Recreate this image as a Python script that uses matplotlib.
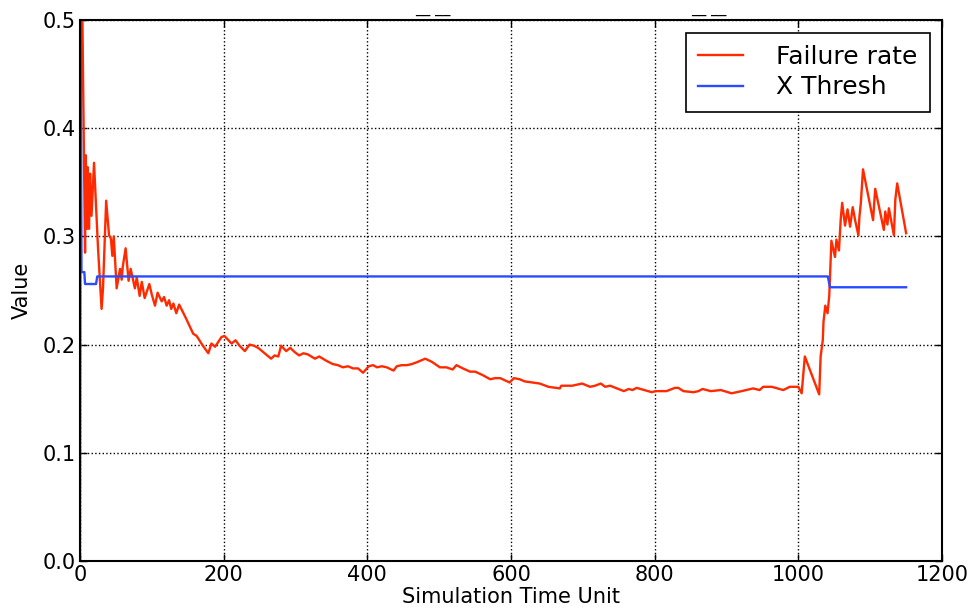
import matplotlib
matplotlib.use('Agg')
import matplotlib.pyplot as plt

# failure rate samples as (time, value)
fail_pts = [
    (0, 0.0), (1.2, 0.55), (2.5, 0.55), (5.5, 0.375), (7, 0.285), (8, 0.375),
    (9.7, 0.307), (10.7, 0.364), (12.5, 0.307), (14, 0.358), (16, 0.319),
    (19.5, 0.368), (25, 0.29), (30, 0.233), (32, 0.252), (36.4, 0.333),
    (40.4, 0.301), (43, 0.298), (45, 0.282), (47, 0.300), (51, 0.252),
    (55.7, 0.270), (58, 0.260), (59.5, 0.272), (63.5, 0.289), (67.6, 0.259),
    (70.5, 0.270), (76.4, 0.252), (79, 0.262), (83, 0.245), (86, 0.258),
    (90, 0.243), (96.5, 0.256), (100, 0.246), (104.4, 0.236), (108, 0.248),
    (113.7, 0.240), (117, 0.244), (120.6, 0.236), (124, 0.241), (127, 0.233),
    (130, 0.238), (134, 0.229), (138, 0.237), (147, 0.225), (157.6, 0.210),
    (162.4, 0.208), (170, 0.200), (178.6, 0.192), (183, 0.201), (188, 0.198),
    (197, 0.207), (201, 0.208), (211, 0.201), (216.5, 0.204), (222, 0.199),
    (229.5, 0.194), (236, 0.200), (242, 0.199), (248, 0.197), (257, 0.192),
    (266, 0.187), (271, 0.190), (276, 0.189), (280, 0.199), (287, 0.194),
    (292.6, 0.197), (299, 0.193), (305, 0.190), (311, 0.192), (317, 0.191),
    (327, 0.187), (333, 0.189), (343, 0.185), (352, 0.182), (359, 0.181),
    (366, 0.179), (373, 0.180), (380, 0.178), (387, 0.178), (394, 0.174),
    (402, 0.180), (408, 0.181), (413.6, 0.179), (420, 0.180), (427, 0.179),
    (436.5, 0.176), (441, 0.180), (448, 0.181), (455, 0.181), (462, 0.182),
    (470, 0.184), (480.6, 0.187), (490, 0.184), (501, 0.179), (510, 0.179),
    (518.7, 0.177), (524, 0.181), (533, 0.178), (543, 0.175), (550, 0.175),
    (560, 0.172), (571, 0.168), (578, 0.169), (585, 0.169), (598, 0.165),
    (604, 0.169), (612, 0.168), (619, 0.166), (630, 0.165), (640, 0.164),
    (652, 0.161), (668, 0.1595), (670, 0.162), (685, 0.162), (699, 0.164),
    (710, 0.161), (717, 0.162), (725, 0.164), (731, 0.161), (738, 0.162),
    (757, 0.157), (764, 0.159), (769, 0.158), (775, 0.160), (796, 0.156),
    (801, 0.157), (816.4, 0.157), (828, 0.160), (833, 0.160), (840, 0.157),
    (854, 0.156), (861, 0.157), (866.6, 0.159), (878, 0.157), (892, 0.158),
    (907, 0.155), (921, 0.157), (937, 0.1595), (946, 0.158), (951, 0.161),
    (963, 0.161), (979, 0.158), (988, 0.161), (1000, 0.161), (1004.6, 0.155),
    (1009, 0.189), (1029, 0.154), (1031, 0.189), (1034, 0.204),
    (1035, 0.221), (1037.5, 0.236), (1040.6, 0.229), (1043, 0.245),
    (1044.5, 0.270), (1046, 0.296), (1051, 0.281), (1053, 0.297),
    (1056.5, 0.287), (1058, 0.304), (1059, 0.316), (1061, 0.331),
    (1065, 0.310), (1068.5, 0.325), (1072, 0.309), (1075.7, 0.327),
    (1079, 0.315), (1083.6, 0.301), (1085, 0.318), (1087, 0.331),
    (1090, 0.362), (1104, 0.315), (1107, 0.344), (1119, 0.306),
    (1121, 0.323), (1124, 0.311), (1126, 0.326), (1133, 0.301),
    (1135, 0.334), (1137.6, 0.349), (1150, 0.303),
]
fail_t = [p[0] for p in fail_pts]
fail_v = [p[1] for p in fail_pts]

# x threshold steps
thresh_t = [0, 1, 2, 6, 7, 22.3, 24, 1041, 1044, 1150]
thresh_v = [0.5, 0.5, 0.267, 0.267, 0.256, 0.256, 0.263, 0.263, 0.253, 0.253]

plt.rcParams['font.family'] = 'DejaVu Sans'
plt.rcParams['xtick.direction'] = 'in'
plt.rcParams['ytick.direction'] = 'in'
plt.rcParams['xtick.top'] = True
plt.rcParams['ytick.right'] = True

fig = plt.figure(figsize=(9.77, 6.08), dpi=100)
ax = fig.add_axes([0.0819, 0.0773, 0.8823, 0.8898])

ax.plot(fail_t, fail_v, color='#ff2a00', lw=1.7, label='Failure rate')
ax.plot(thresh_t, thresh_v, color='#2a4bff', lw=1.7, label='X Thresh')

ax.set_xlim(0, 1200)
ax.set_ylim(0, 0.5)
ax.set_xticks([0, 200, 400, 600, 800, 1000, 1200])
ax.set_yticks([0.0, 0.1, 0.2, 0.3, 0.4, 0.5])
ax.set_yticklabels(['0.0', '0.1', '0.2', '0.3', '0.4', '0.5'])
ax.tick_params(labelsize=15, length=5, width=1, pad=3)
ax.grid(True, color='black', linestyle=':', linewidth=1)
for s in ax.spines.values():
    s.set_linewidth(1.5)

ax.set_xlabel('Simulation Time Unit', fontsize=15, labelpad=1)
ax.set_ylabel('Value', fontsize=15, labelpad=8)

leg = ax.legend(loc='upper right', fontsize=18, fancybox=False, framealpha=1,
                edgecolor='black', handlelength=1.8, handletextpad=1.3,
                borderpad=0.5, borderaxespad=0.5, labelspacing=0.25)
leg.get_frame().set_linewidth(1.2)

# clipped title remnants at the top edge
fig.text(0.4245, 0.998, '__ __', fontsize=11, ha='left', va='top')
fig.text(0.7075, 0.998, '__ __', fontsize=11, ha='left', va='top')

fig.savefig('out.png', dpi=100)
